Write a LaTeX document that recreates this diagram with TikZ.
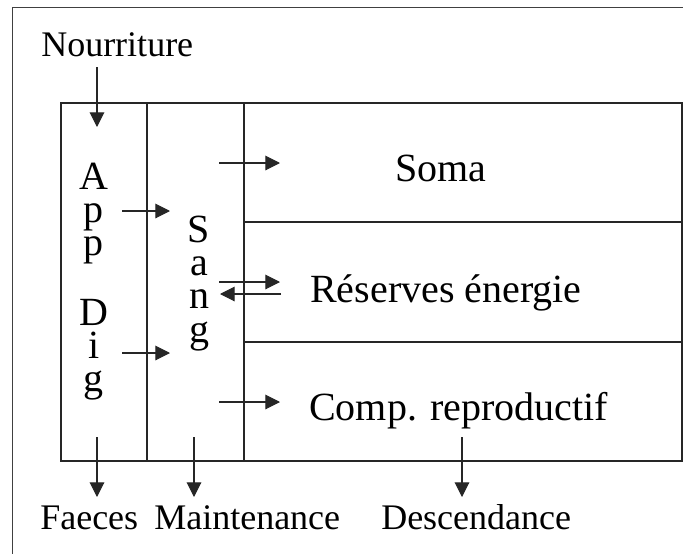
\documentclass[tikz,border=0pt]{standalone}
\usepackage{fontspec}
\setmainfont{Liberation Serif}
\usetikzlibrary{arrows.meta}

\begin{document}
\begin{tikzpicture}[x=0.75pt,y=-0.75pt,
  every node/.style={inner sep=0pt,anchor=base west},
  outlab/.style={font=\fontsize{27}{27}\selectfont},
  inlab/.style={font=\fontsize{30}{30}\selectfont},
  column/.style={font=\fontsize{30}{25}\selectfont,align=center,anchor=north},
  wall/.style={line width=0.8pt,black!85},
  flow/.style={line width=0.8pt,black!85,-{Triangle[length=11pt,width=11pt]}}]
\useasboundingbox (0,0) rectangle (683,554);
% frame, cut at right and bottom
\draw[line width=1.1pt,black!75] (12.5,554) -- (12.5,7.5) -- (683,7.5);
% compartments
\draw[wall] (61,103) rectangle (682,461);
\draw[wall] (147,103) -- (147,461);
\draw[wall] (244,103) -- (244,461);
\draw[wall] (244,222) -- (682,222);
\draw[wall] (244,342) -- (682,342);
% labels outside
\node[outlab] (nour) at (41,56) {Nourriture};
\node[outlab] (faeces) at (40,529) {Faeces};
\node[outlab] (maint) at (154,529) {Maintenance};
\node[outlab] (desc) at (381,529) {Descendance};
% labels inside
\node[inlab] (soma) at (395,181) {Soma};
\node[inlab] (res) at (310,302) {Réserves énergie};
\node[inlab] (comp) at (309,420) {Comp. reproductif};
\node[column] (gut) at (94,162.5) {A\\p\\p\\[25pt]D\\i\\g};
\node[column] (sang) at (199,215.5) {S\\a\\n\\g};
% arrow ends
\coordinate (food) at (97,67);   \coordinate (gutin) at (97,127);
\coordinate (gut1out) at (122,211); \coordinate (sang1in) at (170,211);
\coordinate (gut2out) at (122,353); \coordinate (sang2in) at (170,353);
\coordinate (sang1out) at (219,163); \coordinate (somain) at (280,163);
\coordinate (sang2out) at (219,282); \coordinate (resin) at (280,282);
\coordinate (resout) at (281,294); \coordinate (sang3in) at (220,294);
\coordinate (sang3out) at (219,402); \coordinate (compin) at (280,402);
\coordinate (gutout) at (97,437);  \coordinate (faecesin) at (97,497);
\coordinate (sangout) at (194,437); \coordinate (maintin) at (194,497);
\coordinate (compout) at (462,437); \coordinate (descin) at (462,497);
% flows
\draw[flow] (food) -- (gutin);
\draw[flow] (gut1out) -- (sang1in);
\draw[flow] (gut2out) -- (sang2in);
\draw[flow] (sang1out) -- (somain);
\draw[flow] (sang2out) -- (resin);
\draw[flow] (resout) -- (sang3in);
\draw[flow] (sang3out) -- (compin);
\draw[flow] (gutout) -- (faecesin);
\draw[flow] (sangout) -- (maintin);
\draw[flow] (compout) -- (descin);
\end{tikzpicture}
\end{document}
